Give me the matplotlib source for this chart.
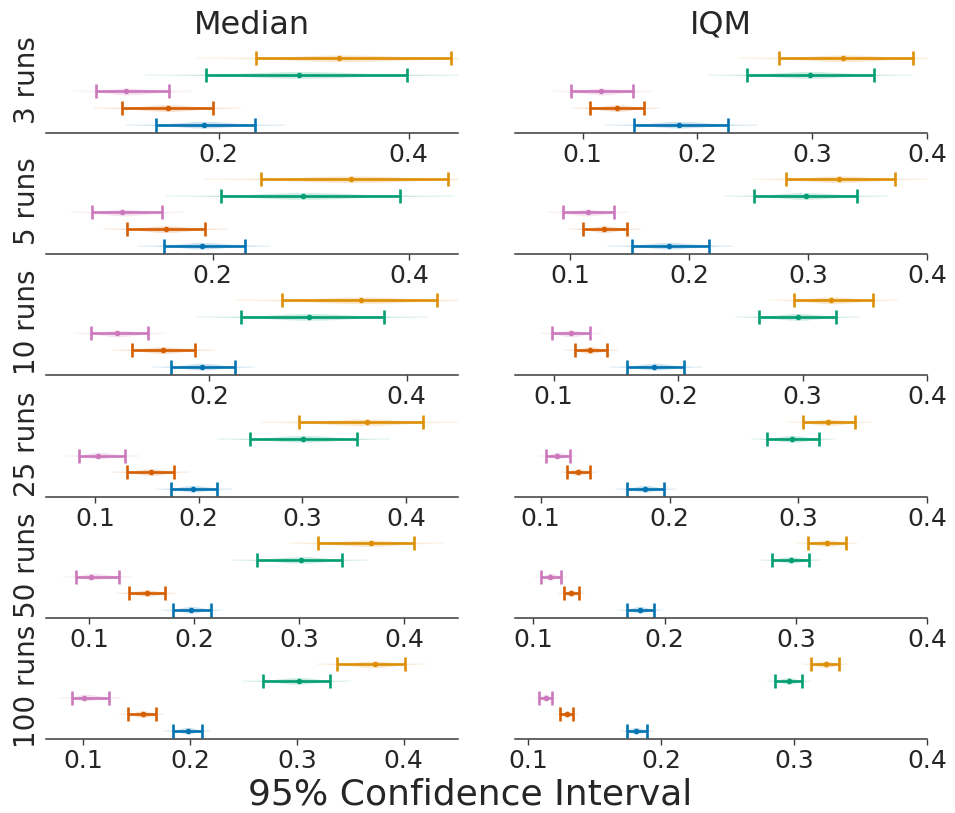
import numpy as np
import matplotlib
matplotlib.use("Agg")
import matplotlib.pyplot as plt

# ---------------- data ----------------
row_labels = ["3 runs", "5 runs", "10 runs", "25 runs", "50 runs", "100 runs"]
col_titles = ["Median", "IQM"]
# series order bottom -> top
algorithms = ["DER", "OTR", "CURL", "DrQ(ε)", "SPR"]
colors = ["#0173b2", "#d55e00", "#cc78bc", "#029e73", "#de8f05"]

# Median: per row, per algorithm (lo, point, hi)
median_lo = [
    [0.134, 0.098, 0.071, 0.187, 0.239],
    [0.150, 0.113, 0.077, 0.208, 0.249],
    [0.162, 0.122, 0.081, 0.232, 0.274],
    [0.173, 0.131, 0.085, 0.250, 0.297],
    [0.180, 0.138, 0.088, 0.260, 0.318],
    [0.184, 0.142, 0.089, 0.268, 0.338],
]
median_pt = [
    [0.184, 0.146, 0.102, 0.284, 0.327],
    [0.189, 0.152, 0.107, 0.292, 0.341],
    [0.193, 0.153, 0.107, 0.301, 0.354],
    [0.195, 0.154, 0.103, 0.301, 0.362],
    [0.197, 0.155, 0.102, 0.302, 0.368],
    [0.198, 0.156, 0.101, 0.302, 0.373],
]
median_hi = [
    [0.238, 0.194, 0.148, 0.398, 0.445],
    [0.233, 0.192, 0.148, 0.391, 0.440],
    [0.226, 0.186, 0.138, 0.377, 0.431],
    [0.218, 0.176, 0.129, 0.353, 0.416],
    [0.216, 0.172, 0.128, 0.341, 0.409],
    [0.211, 0.168, 0.124, 0.331, 0.401],
]
iqm_lo = [
    [0.145, 0.106, 0.090, 0.243, 0.271],
    [0.152, 0.111, 0.094, 0.255, 0.282],
    [0.159, 0.117, 0.099, 0.265, 0.293],
    [0.167, 0.120, 0.104, 0.276, 0.304],
    [0.171, 0.123, 0.106, 0.282, 0.309],
    [0.174, 0.124, 0.108, 0.286, 0.313],
]
iqm_pt = [
    [0.184, 0.130, 0.116, 0.298, 0.327],
    [0.183, 0.129, 0.115, 0.298, 0.326],
    [0.181, 0.129, 0.114, 0.296, 0.323],
    [0.181, 0.129, 0.113, 0.295, 0.323],
    [0.181, 0.129, 0.113, 0.296, 0.324],
    [0.181, 0.129, 0.113, 0.296, 0.324],
]
iqm_hi = [
    [0.227, 0.153, 0.144, 0.354, 0.388],
    [0.217, 0.148, 0.137, 0.341, 0.373],
    [0.205, 0.143, 0.129, 0.327, 0.357],
    [0.196, 0.138, 0.123, 0.316, 0.344],
    [0.192, 0.135, 0.121, 0.310, 0.338],
    [0.189, 0.134, 0.118, 0.306, 0.334],
]

median_xlim = [(0.018, 0.452), (0.030, 0.450), (0.035, 0.452),
               (0.053, 0.450), (0.059, 0.451), (0.065, 0.451)]
iqm_xlim = [(0.041, 0.400), (0.054, 0.400), (0.069, 0.400),
            (0.080, 0.400), (0.086, 0.400), (0.090, 0.400)]
median_ticks = [[0.2, 0.4], [0.2, 0.4], [0.2, 0.4],
                [0.1, 0.2, 0.3, 0.4], [0.1, 0.2, 0.3, 0.4], [0.1, 0.2, 0.3, 0.4]]
iqm_ticks = [[0.1, 0.2, 0.3, 0.4]] * 6

# ---------------- figure ----------------
W, H = 955, 813
fig = plt.figure(figsize=(W / 100, H / 100), dpi=100)
plt.rcParams['font.family'] = ['DejaVu Sans']
text_color = "#262626"
spine_color = "#3a3a3a"

col_left_px = [46, 515]
col_width_px = 412
row_bottom_px = [133, 254, 375, 497, 618, 739]
ax_h_px = 83

data = [(median_lo, median_pt, median_hi, median_xlim, median_ticks),
        (iqm_lo, iqm_pt, iqm_hi, iqm_xlim, iqm_ticks)]

for r in range(6):
    for c in range(2):
        lo_all, pt_all, hi_all, xlims, ticks = data[c]
        left = col_left_px[c] / W
        bottom = 1 - row_bottom_px[r] / H
        ax = fig.add_axes([left, bottom, col_width_px / W, ax_h_px / H])
        for i in range(len(algorithms)):
            lo, pt, hi = lo_all[r][i], pt_all[r][i], hi_all[r][i]
            col = colors[i]
            # faint density-like shading
            span = hi - lo
            xs = np.linspace(lo - 0.3 * span, hi + 0.3 * span, 120)
            wl = (pt - lo) * 0.9
            wr = (hi - pt) * 0.9
            z = np.where(xs < pt, (xs - pt) / wl, (xs - pt) / wr)
            hw = 0.2 * np.exp(-0.5 * (z * 1.7) ** 2)
            ax.fill_between(xs, i - hw, i + hw, color=col, alpha=0.2, lw=0)
            ax.plot(xs, np.full_like(xs, i), color=col, alpha=0.07, lw=1.2)
            ax.errorbar([pt], [i], xerr=[[pt - lo], [hi - pt]], fmt='none',
                        ecolor=col, elinewidth=1.9, capsize=5.0, capthick=1.9)
            ax.plot([pt], [i], 'o', color=col, ms=3.0, mec=col)
        ax.set_ylim(-0.5, 4.5)
        ax.set_xlim(*xlims[r])
        ax.set_xticks(ticks[r])
        ax.set_xticklabels([f"{t:.1f}" for t in ticks[r]])
        ax.set_yticks([])
        for s in ["top", "right", "left"]:
            ax.spines[s].set_visible(False)
        ax.spines["bottom"].set_color(spine_color)
        ax.spines["bottom"].set_linewidth(1.1)
        ax.tick_params(axis='x', length=4, width=1.0, colors=spine_color,
                       labelcolor=text_color, labelsize=18, pad=3)
        ax.patch.set_alpha(0)
        if c == 0:
            ax.set_ylabel(row_labels[r], fontsize=20, color=text_color)
            ax.yaxis.set_label_coords(-0.012, 0.64)

fig.text(252 / W, 1 - 25 / H, col_titles[0], ha='center', va='center',
         fontsize=23, color=text_color)
fig.text(721 / W, 1 - 25 / H, col_titles[1], ha='center', va='center',
         fontsize=23, color=text_color)
fig.text(470 / W, 1 - 804 / H, "95% Confidence Interval", ha='center',
         va='baseline', fontsize=26, color=text_color)

fig.savefig("out.png", dpi=100, facecolor="white")
